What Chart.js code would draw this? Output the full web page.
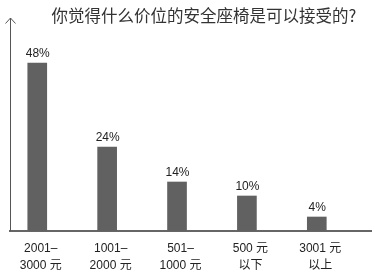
<!DOCTYPE html>
<html>
<head>
<meta charset="utf-8">
<script src="https://cdn.jsdelivr.net/npm/chart.js@4/dist/chart.umd.min.js"></script>
<style>
html,body{margin:0;padding:0;background:#fff;}
#wrap{position:relative;width:372px;height:280px;}
</style>
</head>
<body>
<div id="wrap"><canvas id="c" width="372" height="280"></canvas></div>
<script>
const title = '你觉得什么价位的安全座椅是可以接受的?';
const categories = [
  ['2001–', '3000 元'],
  ['1001–', '2000 元'],
  ['501–', '1000 元'],
  ['500 元', '以下'],
  ['3001 元', '以上']
];
const values = [48, 24, 14, 10, 4];
const valueLabels = ['48%', '24%', '14%', '10%', '4%'];

const FONT = "'Liberation Sans', 'Noto Sans CJK SC', sans-serif";

const decor = {
  id: 'decor',
  afterDatasetsDraw(chart) {
    const ctx = chart.ctx;
    const a = chart.chartArea;
    ctx.save();
    // y axis with arrow
    ctx.strokeStyle = '#555';
    ctx.lineWidth = 1;
    ctx.beginPath();
    ctx.moveTo(a.left + 0.5, a.bottom);
    ctx.lineTo(a.left + 0.5, a.top);
    ctx.moveTo(a.left - 4.5, a.top + 5.5);
    ctx.lineTo(a.left + 0.5, a.top);
    ctx.lineTo(a.left + 5.5, a.top + 5.5);
    ctx.stroke();
    // value labels
    const meta = chart.getDatasetMeta(0);
    ctx.fillStyle = '#222';
    ctx.font = '12px ' + FONT;
    ctx.textAlign = 'center';
    ctx.textBaseline = 'alphabetic';
    meta.data.forEach((bar, i) => {
      ctx.fillText(valueLabels[i], bar.x + 0.5, bar.y - 6);
    });
    // title
    ctx.fillStyle = '#333';
    ctx.font = "16.5px 'Noto Sans CJK SC', sans-serif";
    ctx.textBaseline = 'middle';
    ctx.fillText(title, 204, 16);
    ctx.restore();
  }
};

new Chart(document.getElementById('c'), {
  type: 'bar',
  data: {
    datasets: [{
      data: values.map((v, i) => ({x: i, y: v})),
      backgroundColor: '#616161',
      barThickness: 19
    }]
  },
  options: {
    responsive: false,
    animation: false,
    events: [],
    layout: { padding: { top: 18, left: 10, right: 0, bottom: 0 } },
    plugins: { legend: { display: false }, tooltip: { enabled: false }, title: { display: false } },
    scales: {
      x: {
        type: 'linear',
        offset: false,
        min: -0.39,
        max: 4.79,
        grid: { display: false, drawTicks: false },
        border: { display: true, color: '#666', width: 2 },
        afterBuildTicks(scale) { scale.ticks = categories.map((c, i) => ({ value: i })); },
        afterFit(scale) { scale.height = 49; scale.paddingLeft = 0; scale.paddingRight = 0; },
        ticks: {
          autoSkip: false,
          maxRotation: 0,
          padding: 9,
          labelOffset: 3.5,
          color: '#222',
          font: { family: FONT, size: 12, lineHeight: 1.4 },
          callback: (v) => categories[v] || ''
        }
      },
      y: {
        display: false,
        min: 0,
        max: 60.86
      }
    }
  },
  plugins: [decor]
});
</script>
</body>
</html>
